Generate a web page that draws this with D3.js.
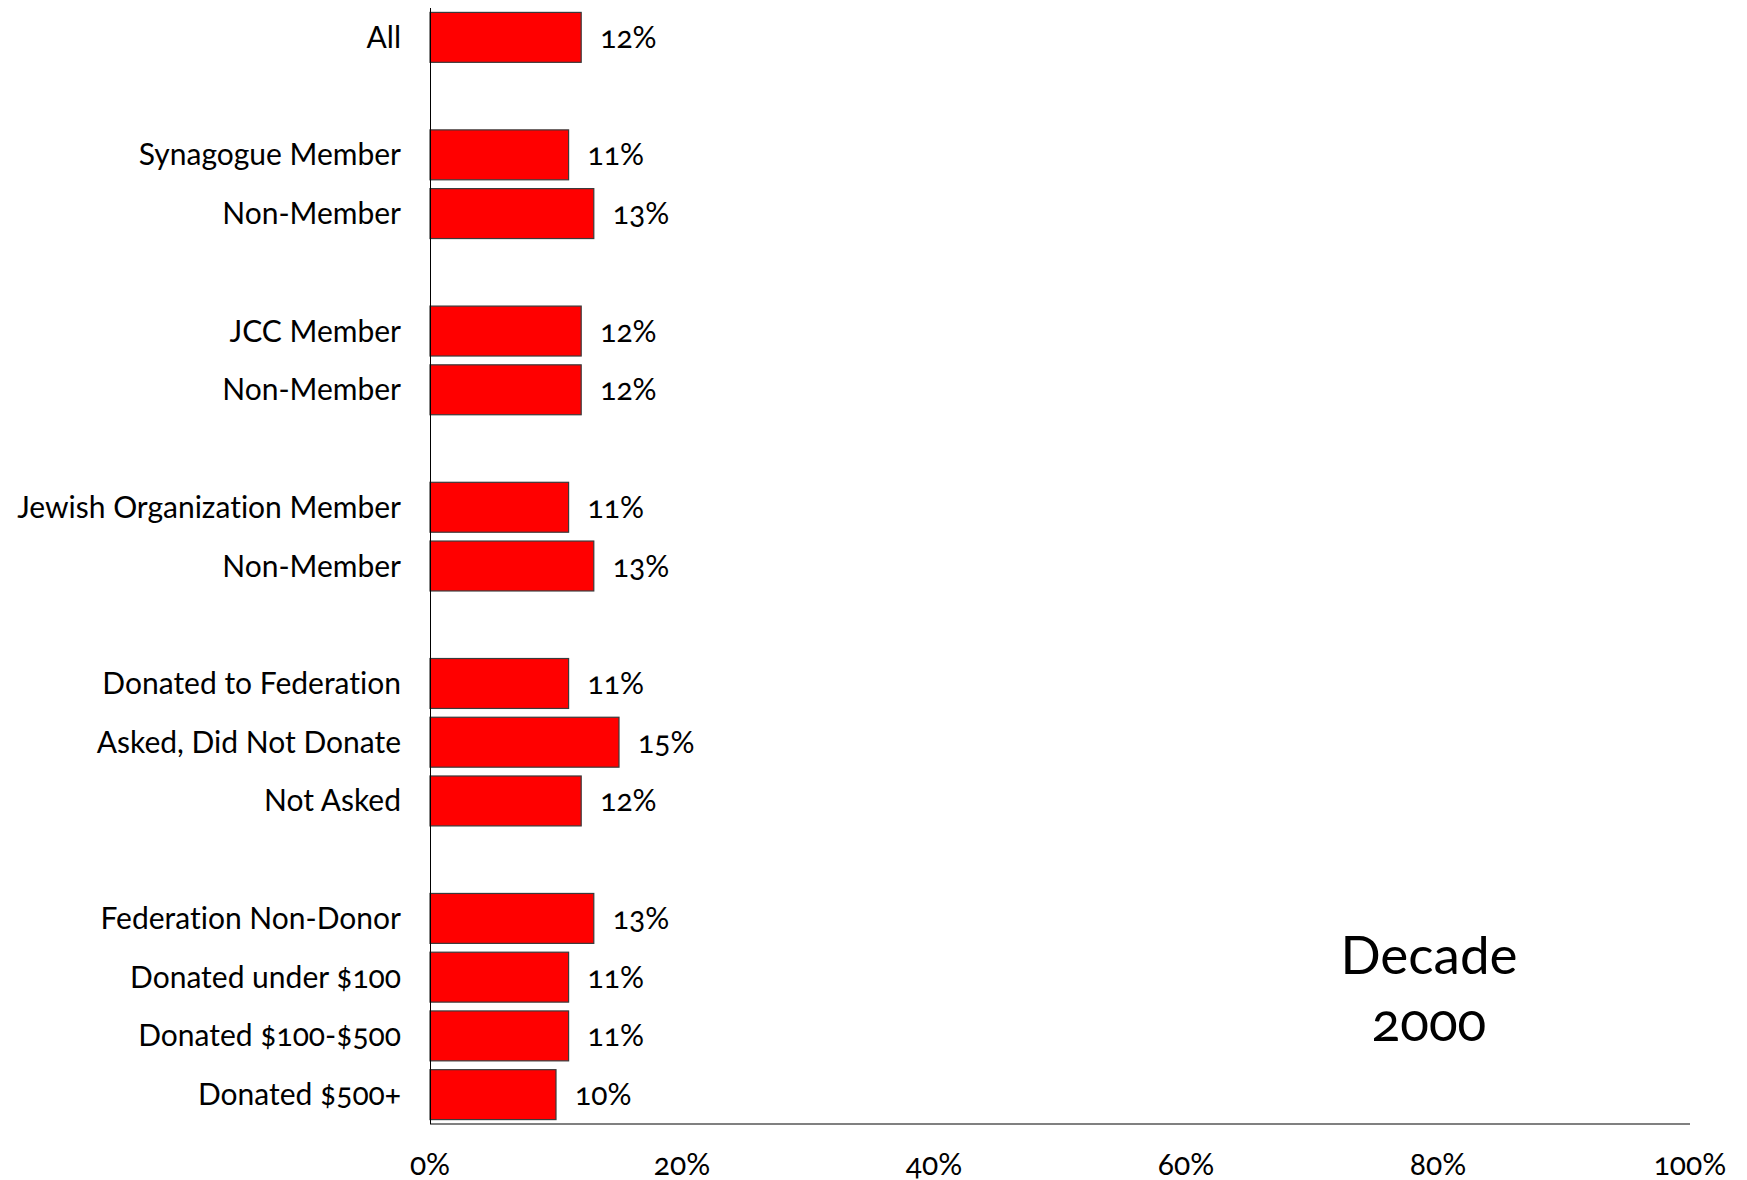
<!DOCTYPE html>
<html><head><meta charset="utf-8">
<script src="https://cdn.jsdelivr.net/npm/d3@7"></script>
<style>
html,body{margin:0;padding:0;background:#fff;}
svg text{font-family:Lato,"Open Sans",sans-serif;font-variant-numeric:oldstyle-nums;font-variant-ligatures:none;font-feature-settings:"liga" 0,"onum" 1;fill:#000;}
</style></head>
<body>
<svg id="chart" width="1747" height="1180"></svg>
<script>
// slot index of each bar (blank slots separate the groups)
const categories = ["All","Synagogue Member","Non-Member","JCC Member","Non-Member","Jewish Organization Member","Non-Member","Donated to Federation","Asked, Did Not Donate","Not Asked","Federation Non-Donor","Donated under $100","Donated $100-$500","Donated $500+"];
const slots = [0,2,3,5,6,8,9,11,12,13,15,16,17,18];
const values = [12,11,13,12,12,11,13,11,15,12,13,11,11,10];
const tickValues = [0,20,40,60,80,100];
const tickLabels = ["0%","20%","40%","60%","80%","100%"];
const annotation = ["Decade","2000"];

const svg = d3.select("#chart");
const x = d3.scaleLinear().domain([0,100]).range([430,1690]);
const y = d3.scaleBand().domain(d3.range(19)).range([8,1124]).paddingInner(0.15).paddingOuter(0.075);

const data = categories.map((c,i)=>({c, s:slots[i], v:values[i]}));

// bars
svg.selectAll("rect.bar").data(data).join("rect")
  .attr("class","bar")
  .attr("x", x(0))
  .attr("y", d=>y(d.s))
  .attr("width", d=>x(d.v)-x(0))
  .attr("height", y.bandwidth())
  .attr("fill","#ff0000")
  .attr("stroke","#3a3a3a")
  .attr("stroke-width",1.2);

// bottom axis line
svg.append("line").attr("x1",x(0)).attr("x2",x(100)).attr("y1",1124).attr("y2",1124)
  .attr("stroke","#808080").attr("stroke-width",2);
// left axis line
svg.append("line").attr("x1",x(0)+0.5).attr("x2",x(0)+0.5).attr("y1",8).attr("y2",1124)
  .attr("stroke","#000").attr("stroke-width",1);

// category labels
svg.selectAll("text.cat").data(data).join("text")
  .attr("class","cat")
  .attr("x", 401)
  .attr("y", d=>y(d.s)+y.bandwidth()/2)
  .attr("dy","0.35em")
  .attr("text-anchor","end")
  .attr("font-size",30)
  .text(d=>d.c);

// value labels
svg.selectAll("text.val").data(data).join("text")
  .attr("class","val")
  .attr("x", d=>x(d.v)+19)
  .attr("y", d=>y(d.s)+y.bandwidth()/2)
  .attr("dy","0.35em")
  .attr("font-size",30)
  .text(d=>d.v+"%");

// tick labels
svg.selectAll("text.tick").data(tickValues).join("text")
  .attr("class","tick")
  .attr("x", d=>x(d))
  .attr("y", 1164)
  .attr("dy","0.35em")
  .attr("text-anchor","middle")
  .attr("font-size",30)
  .text((d,i)=>tickLabels[i]);

// annotation
svg.append("text").attr("x",1429).attr("y",974).attr("text-anchor","middle")
  .attr("font-size",53).text(annotation[0]);
svg.append("text").attr("x",1429).attr("y",1041).attr("text-anchor","middle")
  .attr("font-size",53).text(annotation[1]);
</script>
</body></html>
